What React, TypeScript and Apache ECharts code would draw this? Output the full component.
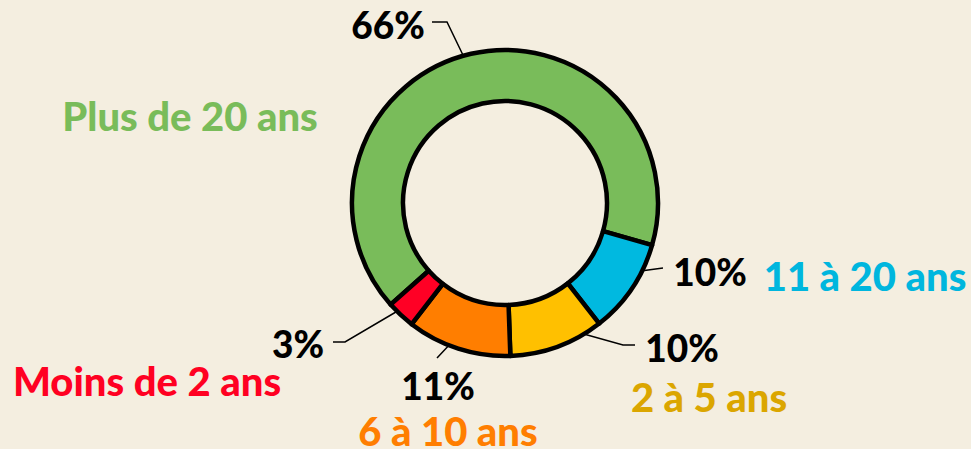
import React, { useEffect, useRef } from "react";
import * as echarts from "echarts";

const categories = ["Plus de 20 ans", "11 à 20 ans", "2 à 5 ans", "6 à 10 ans", "Moins de 2 ans"];
const values = [66, 10, 10, 11, 3];
const sliceColors = ["#79bc5a", "#00b9e0", "#ffc000", "#ff7e00", "#ff0025"];
const nameColors = ["#79bc5a", "#00b6de", "#dba600", "#ff7e00", "#ff0022"];

// layout (pixel positions of labels and leader lines)
const pctPos = [
  { x: 388, y: 24, line: [[475, 80], [447, 22], [432, 22]] },
  { x: 710, y: 271, line: [[610, 275], [637, 271.5], [663, 268]] },
  { x: 682, y: 347, line: [[548, 324], [623, 345], [635, 345]] },
  { x: 438, y: 385, line: [[467, 327], [452, 342], [437, 358]] },
  { x: 298, y: 343, line: [[418, 299], [345, 342], [333, 342]] },
];
const namePos = [
  { x: 190, y: 116 },
  { x: 865, y: 276 },
  { x: 709, y: 397 },
  { x: 448, y: 431 },
  { x: 147, y: 381 },
];

const FONT = "Lato";

export default function App() {
  const ref = useRef<HTMLDivElement>(null);
  useEffect(() => {
    document.body.style.margin = "0";
    document.body.style.background = "#f4eee0";
    const chart = echarts.init(ref.current!, null, { renderer: "svg" });
    const center = [505, 203];
    chart.setOption({
      animation: false,
      backgroundColor: "#f4eee0",
      series: [
        {
          type: "pie",
          silent: true,
          center,
          radius: [102, 153],
          startAngle: 221.6,
          clockwise: true,
          avoidLabelOverlap: false,
          itemStyle: { color: "rgba(0,0,0,0)", borderWidth: 0 },
          label: {
            show: true,
            position: "outside",
            formatter: "{b}",
            fontFamily: FONT,
            fontWeight: 900,
            fontSize: 40,
            lineHeight: 30,
          },
          labelLine: { show: false },
          labelLayout: (p: any) => {
            const pos = namePos[p.dataIndex];
            return { x: pos.x, y: pos.y, align: "center", verticalAlign: "middle" };
          },
          data: categories.map((n, i) => ({
            name: n,
            value: values[i],
            label: { color: nameColors[i] },
          })),
        },
        {
          type: "pie",
          silent: true,
          center,
          radius: [102, 153],
          startAngle: 221.6,
          clockwise: true,
          avoidLabelOverlap: false,
          itemStyle: { borderColor: "#000", borderWidth: 4.5 },
          label: {
            show: true,
            position: "outside",
            formatter: "{d}%",
            color: "#000",
            fontFamily: FONT,
            fontWeight: 900,
            fontSize: 37,
          },
          labelLine: { show: true, lineStyle: { color: "#000", width: 1.5 } },
          labelLayout: (p: any) => {
            const pos = pctPos[p.dataIndex];
            return {
              x: pos.x,
              y: pos.y,
              align: "center",
              verticalAlign: "middle",
              labelLinePoints: pos.line,
            };
          },
          data: categories.map((n, i) => ({
            name: n,
            value: values[i],
            itemStyle: { color: sliceColors[i] },
          })),
        },
      ],
    });
    return () => chart.dispose();
  }, []);
  return <div ref={ref} style={{ width: 971, height: 449 }} />;
}
